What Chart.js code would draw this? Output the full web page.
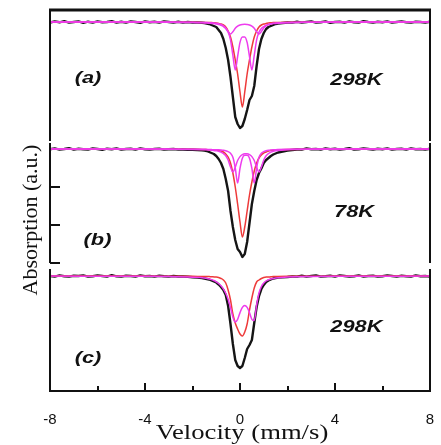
<!DOCTYPE html>
<html>
<head>
<meta charset="utf-8">
<script src="https://cdn.jsdelivr.net/npm/chart.js@4.4.1/dist/chart.umd.min.js"></script>
<style>
  body { margin: 0; background: #fff; width: 441px; height: 445px; position: relative; overflow: hidden; }
  canvas { position: absolute; left: 0; }
  #ylab { position: absolute; left: -71px; top: 208px; width: 200px; height: 24px; line-height: 24px;
          text-align: center; font: 22px "Liberation Serif", "Times New Roman", serif; color: #111;
          transform: rotate(-90deg); white-space: nowrap; }
</style>
</head>
<body>
<canvas id="pa" width="441" height="142" style="top:0px"></canvas>
<canvas id="pb" width="441" height="122" style="top:142px"></canvas>
<canvas id="pc" width="441" height="181" style="top:264px"></canvas>
<div id="ylab">Absorption (a.u.)</div>
<script>
// velocity grid of the measured spectra (mm/s)
const VELOCITY = [
  -8, -7.8, -7.6, -7.4, -7.2, -7, -6.8, -6.6, -6.4, -6.2, -6, -5.8, -5.6, -5.4, -5.2, -5, -4.8,
  -4.6, -4.4, -4.2, -4, -3.8, -3.6, -3.4, -3.2, -3, -2.8, -2.6, -2.4, -2.2, -2, -1.8, -1.6,
  -1.5, -1.4, -1.3, -1.2, -1.1, -1, -0.9, -0.8, -0.7, -0.6, -0.5, -0.4, -0.3, -0.2, -0.1, 0,
  0.1, 0.2, 0.3, 0.4, 0.5, 0.6, 0.7, 0.8, 0.9, 1, 1.1, 1.2, 1.3, 1.4, 1.5,
  1.6, 1.8, 2, 2.2, 2.4, 2.6, 2.8, 3, 3.2, 3.4, 3.6, 3.8, 4, 4.2, 4.4, 4.6, 4.8,
  5, 5.2, 5.4, 5.6, 5.8, 6, 6.2, 6.4, 6.6, 6.8, 7, 7.2, 7.4, 7.6, 7.8, 8
];
// velocity grid of the fitted components
const FIT_VELOCITY = [
  -8, -4, -3, -2,
  -1.5, -1.4, -1.3, -1.2, -1.1, -1, -0.9, -0.8, -0.7, -0.6, -0.5, -0.4, -0.3, -0.2, -0.1, 0,
  0.1, 0.2, 0.3, 0.4, 0.5, 0.6, 0.7, 0.8, 0.9, 1, 1.1, 1.2, 1.3, 1.4, 1.5,
  2, 3, 4, 8
];

// (a) 298K  -- absorption (a.u.)
const DATA_A = [
  0.06, -0.06, 0.03, -0.08, 0.06, 0, -0.06, 0.08, -0.03, 0.06, -0.06, 0.03, 0, -0.08, 0.06, -0.03, 0.06,
  -0.06, 0, 0.08, -0.06, 0.03, -0.03, 0.06, -0.06, 0, 0.06, -0.03, 0.06, 0, 0.05, 0.05, 0.08,
  0.1, 0.15, 0.2, 0.3, 0.4, 0.5, 0.8, 1.1, 1.7, 2.6, 3.8, 5.5, 7.5, 9.5, 10.2, 10.6,
  10.4, 9.7, 8.8, 7.8, 7.4, 6.4, 4.4, 2.7, 1.7, 1.1, 0.7, 0.5, 0.4, 0.3, 0.2,
  0.15, 0.1, 0.05, 0.06, -0.03, 0.06, 0, -0.06, 0.06, 0.03, -0.06, 0.08, 0, -0.03, 0.06, -0.06, 0.03,
  0.06, -0.08, 0, 0.06, -0.03, 0.03, -0.06, 0.06, 0, -0.06, 0.03, 0.06, -0.03, 0, 0.06, -0.03
];
const RED_A = [
  0, 0.01, 0.02, 0.03,
  0.04, 0.05, 0.05, 0.06, 0.08, 0.1, 0.15, 0.2, 0.3, 0.5, 0.9, 1.5, 2.5, 3.8, 5.2, 7.0,
  8.5, 7.0, 5.2, 3.8, 2.5, 1.5, 0.9, 0.5, 0.3, 0.2, 0.15, 0.1, 0.08, 0.06, 0.05,
  0.03, 0.02, 0.01, 0
];
const MAG_A1 = [
  0, 0.01, 0.02, 0.05,
  0.09, 0.1, 0.12, 0.14, 0.16, 0.2, 0.25, 0.33, 0.45, 0.65, 1.02, 1.78, 3.34, 4.8, 3.45, 2.04,
  1.49, 1.49, 2.04, 3.45, 4.8, 3.34, 1.78, 1.02, 0.65, 0.45, 0.33, 0.25, 0.2, 0.16, 0.14,
  0.07, 0.03, 0.01, 0
];
const MAG_A2 = [
  0, 0.01, 0.01, 0.03,
  0.05, 0.055, 0.065, 0.08, 0.1, 0.13, 0.18, 0.25, 0.38, 0.61, 0.96, 1.2, 0.97, 0.63, 0.42, 0.3,
  0.25, 0.23, 0.25, 0.3, 0.42, 0.63, 0.97, 1.2, 0.96, 0.61, 0.38, 0.25, 0.18, 0.13, 0.1,
  0.04, 0.02, 0.01, 0
];

// (b) 78K
const DATA_B = [
  0.03, -0.06, 0.06, 0, -0.08, 0.06, -0.03, 0.03, 0.06, -0.06, 0, 0.08, -0.03, 0.03, -0.06, 0.06, 0,
  -0.03, 0.06, -0.06, 0.03, 0.06, 0, -0.03, 0.06, 0.03, 0, 0.06, 0.05, 0.08, 0.08, 0.1, 0.12,
  0.15, 0.2, 0.3, 0.4, 0.5, 0.7, 1.0, 1.4, 2.0, 3.0, 4.2, 6.2, 7.8, 9.1, 10.0, 10.3,
  10.8, 10.5, 9.3, 7.4, 5.5, 4.2, 3.1, 2.4, 1.95, 1.4, 1.1, 0.9, 0.7, 0.55, 0.45,
  0.35, 0.25, 0.15, 0.1, 0.05, 0.06, -0.06, 0.03, 0, 0.06, -0.06, 0.03, -0.03, 0.06, 0, -0.08, 0.06,
  0.03, -0.06, 0, 0.06, -0.03, 0.03, -0.06, 0.06, 0, -0.03, 0.06, -0.06, 0.03, 0, 0.06, -0.03
];
const RED_B = [
  0, 0.01, 0.02, 0.03,
  0.05, 0.06, 0.07, 0.08, 0.09, 0.1, 0.15, 0.2, 0.3, 0.5, 0.8, 1.4, 2.4, 3.8, 5.5, 7.3,
  8.8, 7.8, 6.2, 4.6, 3.3, 2.2, 1.4, 0.9, 0.6, 0.4, 0.3, 0.2, 0.15, 0.12, 0.1,
  0.05, 0.02, 0.01, 0
];
const MAG_B1 = [
  0, 0, 0.01, 0.02,
  0.03, 0.04, 0.05, 0.06, 0.07, 0.07, 0.08, 0.1, 0.13, 0.18, 0.27, 0.43, 0.82, 1.88, 3.4, 1.93,
  0.92, 0.63, 0.63, 0.92, 1.93, 3.4, 1.88, 0.82, 0.43, 0.27, 0.18, 0.13, 0.1, 0.08, 0.07,
  0.03, 0.01, 0, 0
];
const MAG_B2 = [
  0, 0.01, 0.02, 0.04,
  0.07, 0.08, 0.1, 0.12, 0.14, 0.18, 0.23, 0.31, 0.45, 0.68, 1.1, 1.8, 2.3, 1.82, 1.15, 0.76,
  0.56, 0.48, 0.48, 0.56, 0.76, 1.15, 1.82, 2.3, 1.8, 1.1, 0.68, 0.45, 0.31, 0.23, 0.18,
  0.07, 0.03, 0.01, 0
];

// (c) 298K
const DATA_C = [
  0, 0.06, -0.06, 0.03, 0.06, -0.03, 0, -0.06, 0.06, 0.03, -0.06, 0, 0.06, -0.08, 0.03, 0.06, -0.03,
  0, 0.06, -0.06, 0.03, 0, 0.06, -0.03, 0.03, 0.06, 0, 0.05, 0.05, 0.08, 0.12, 0.15, 0.2,
  0.25, 0.3, 0.35, 0.45, 0.55, 0.65, 0.85, 1.1, 1.4, 1.9, 3.0, 4.8, 6.8, 8.4, 9.0, 9.2,
  9.0, 8.2, 7.3, 6.9, 6.4, 4.7, 3.1, 2.0, 1.3, 0.9, 0.6, 0.45, 0.35, 0.25, 0.2,
  0.15, 0.12, 0.1, 0.05, 0.06, -0.03, 0.06, 0, -0.06, 0.06, 0.03, -0.03, 0.06, -0.06, 0, 0.06, 0.03,
  -0.06, 0.06, 0, -0.03, 0.06, 0.03, -0.06, 0, 0.06, -0.03, 0.03, 0.06, -0.06, 0.03, 0, 0.06
];
const RED_C = [
  0, 0.01, 0.02, 0.03,
  0.05, 0.05, 0.06, 0.08, 0.09, 0.1, 0.15, 0.25, 0.4, 0.7, 1.4, 2.4, 3.8, 4.7, 5.3, 5.8,
  6.0, 5.6, 4.8, 3.4, 2.2, 1.2, 0.6, 0.4, 0.25, 0.15, 0.1, 0.1, 0.08, 0.06, 0.05,
  0.03, 0.02, 0.01, 0
];
const MAG_C = [
  0.01, 0.03, 0.05, 0.12,
  0.2, 0.24, 0.29, 0.36, 0.45, 0.58, 0.75, 0.98, 1.29, 1.72, 2.33, 3.18, 4.1, 4.6, 4.33, 3.66,
  3.14, 2.95, 3.14, 3.66, 4.33, 4.45, 2.9, 1.7, 1.05, 0.7, 0.5, 0.38, 0.3, 0.24, 0.2,
  0.1, 0.05, 0.03, 0.01
];

const X_TICKS = [-8, -4, 0, 4, 8];
const X_MINOR = [-6, -2, 2, 6];
const Y_TICKS_B = [3.8, 7.6, 11.4];

const pts = (xs, ys) => xs.map((v, i) => ({ x: v, y: ys[i] }));

function fit(ys, color) {
  return { data: pts(FIT_VELOCITY, ys), borderColor: color, borderWidth: 1.5,
           pointRadius: 0, cubicInterpolationMode: 'monotone' };
}
function measured(ys) {
  return { data: pts(VELOCITY, ys), borderColor: '#151515', borderWidth: 2.4,
           pointRadius: 0, tension: 0, borderJoinStyle: 'round' };
}

// frame, inner ticks and the panel texts
const frame = {
  id: 'frame',
  afterDatasetsDraw(chart, args, o) {
    const { ctx, chartArea: a, scales: { x, y } } = chart;
    ctx.save();
    ctx.strokeStyle = '#111';
    ctx.lineWidth = 2;
    ctx.beginPath();
    ctx.moveTo(a.left, a.top); ctx.lineTo(a.left, a.bottom);
    ctx.moveTo(a.right, a.top); ctx.lineTo(a.right, a.bottom);
    (o.yTicks || []).forEach(v => {
      const py = Math.round(y.getPixelForValue(v));
      ctx.moveTo(a.left, py); ctx.lineTo(a.left + 10, py);
    });
    (o.xMajor || []).forEach(v => {
      const px = Math.round(x.getPixelForValue(v));
      ctx.moveTo(px, a.bottom); ctx.lineTo(px, a.bottom - 8);
    });
    (o.xMinor || []).forEach(v => {
      const px = Math.round(x.getPixelForValue(v));
      ctx.moveTo(px, a.bottom); ctx.lineTo(px, a.bottom - 5);
    });
    ctx.stroke();
    if (o.top) {
      ctx.lineWidth = 3;
      ctx.beginPath();
      ctx.moveTo(a.left - 1, a.top); ctx.lineTo(a.right + 1, a.top);
      ctx.stroke();
    }
    ctx.fillStyle = '#111';
    ctx.textAlign = 'center';
    ctx.textBaseline = 'middle';
    (o.labels || []).forEach(l => {
      ctx.save();
      ctx.translate(x.getPixelForValue(l.x), y.getPixelForValue(l.y));
      ctx.scale(1.28, 1);
      ctx.font = 'italic bold 17px "Liberation Sans", Arial, sans-serif';
      ctx.fillText(l.text, 0, 0);
      ctx.restore();
    });
    if (o.title) {
      ctx.save();
      ctx.translate((a.left + a.right) / 2 + 2, a.bottom + o.title.dy);
      ctx.scale(1.27, 1);
      ctx.font = '21px "Liberation Serif", "Times New Roman", serif';
      ctx.fillText(o.title.text, 0, 0);
      ctx.restore();
    }
    ctx.restore();
  }
};

function panel(id, datasets, yMin, yMax, pad, frameOpts, showX) {
  const xScale = { type: 'linear', min: -8, max: 8, display: false };
  if (showX) {
    Object.assign(xScale, {
      display: true,
      grid: { display: false },
      border: { display: true, color: '#111', width: 2 },
      afterBuildTicks: s => { s.ticks = X_TICKS.map(v => ({ value: v })); },
      afterFit: s => { s.height = 54; s.paddingLeft = 0; s.paddingRight = 0; },
      ticks: { color: '#111', padding: 12, maxRotation: 0, autoSkip: false,
               font: { family: '"Liberation Sans", Arial, sans-serif', size: 15 } }
    });
  }
  return new Chart(document.getElementById(id), {
    type: 'line',
    data: { datasets },
    options: {
      responsive: false,
      animation: false,
      devicePixelRatio: 1,
      layout: { padding: pad },
      plugins: { legend: { display: false }, tooltip: { enabled: false }, frame: frameOpts },
      scales: {
        x: xScale,
        y: { type: 'linear', reverse: true, min: yMin, max: yMax, display: false }
      }
    },
    plugins: [frame]
  });
}

panel('pa',
  [fit(MAG_A2, '#ee3cee'), fit(MAG_A1, '#ee3cee'), fit(RED_A, '#ee3a3a'), measured(DATA_A)],
  -1.2, 11.9, { left: 50, right: 11, top: 10, bottom: 1 },
  { top: true, labels: [{ text: '(a)', x: -6.4, y: 5.6 }, { text: '298K', x: 4.9, y: 5.8 }] }, false);

panel('pb',
  [fit(MAG_B2, '#ee3cee'), fit(MAG_B1, '#ee3cee'), fit(RED_B, '#ee3a3a'), measured(DATA_B)],
  -0.6, 11.4, { left: 50, right: 11, top: 1, bottom: 1 },
  { yTicks: Y_TICKS_B, labels: [{ text: '78K', x: 4.8, y: 6.3 }, { text: '(b)', x: -6.0, y: 9.1 }] }, false);

panel('pc',
  [fit(MAG_C, '#ee3cee'), fit(RED_C, '#ee3a3a'), measured(DATA_C)],
  -0.7, 11.5, { left: 50, right: 11, top: 5, bottom: 0 },
  { xMajor: X_TICKS, xMinor: X_MINOR,
    labels: [{ text: '298K', x: 4.9, y: 5.1 }, { text: '(c)', x: -6.4, y: 8.2 }],
    title: { text: 'Velocity (mm/s)', dy: 42 } }, true);
</script>
</body>
</html>
